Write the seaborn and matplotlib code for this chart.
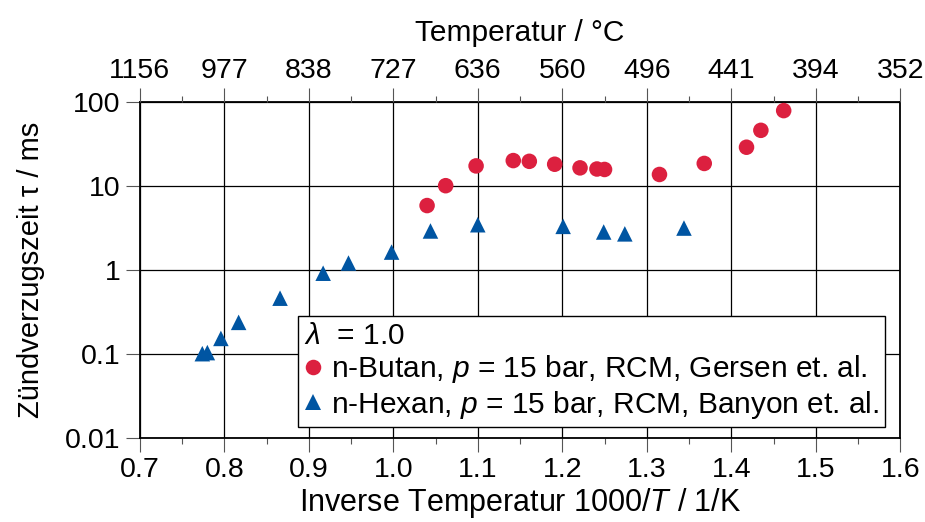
import matplotlib
matplotlib.use("Agg")
import matplotlib.pyplot as plt
import seaborn as sns
import pandas as pd
import numpy as np

# ---- data ----
butan_x = [1.040, 1.062, 1.098, 1.142, 1.161, 1.191, 1.221, 1.241, 1.250, 1.315, 1.368, 1.418, 1.435, 1.462]
butan_y = [5.8, 10.0, 17.2, 19.9, 19.5, 18.0, 16.3, 15.8, 15.6, 13.6, 18.4, 28.7, 45.6, 78.3]
hexan_x = [0.774, 0.780, 0.796, 0.817, 0.866, 0.917, 0.947, 0.998, 1.044, 1.100, 1.201, 1.249, 1.274, 1.344]
hexan_y = [0.100, 0.103, 0.152, 0.236, 0.458, 0.908, 1.20, 1.62, 2.89, 3.43, 3.28, 2.81, 2.67, 3.13]
butan_label = "n-Butan, $p$ = 15 bar, RCM, Gersen et. al."
hexan_label = "n-Hexan, $p$ = 15 bar, RCM, Banyon et. al."
legend_title = r"$\lambda$  = 1.0"
x_ticks = [0.7, 0.8, 0.9, 1.0, 1.1, 1.2, 1.3, 1.4, 1.5, 1.6]
x_ticklabels = ["0.7", "0.8", "0.9", "1.0", "1.1", "1.2", "1.3", "1.4", "1.5", "1.6"]
top_ticklabels = ["1156", "977", "838", "727", "636", "560", "496", "441", "394", "352"]
y_ticks = [0.01, 0.1, 1, 10, 100]
y_ticklabels = ["0.01", "0.1", "1", "10", "100"]

sns.set_style("white")
plt.rcParams["font.family"] = ["Liberation Sans", "DejaVu Sans"]
plt.rcParams["mathtext.fontset"] = "custom"
plt.rcParams["mathtext.rm"] = "Liberation Sans"
plt.rcParams["mathtext.it"] = "Liberation Sans:italic"
plt.rcParams["font.size"] = 20.5
for k in ["text.color", "axes.labelcolor", "xtick.labelcolor", "ytick.labelcolor"]:
    plt.rcParams[k] = "black"

red = "#DC203F"
blue = "#0055A2"

df = pd.DataFrame({
    "x": butan_x + hexan_x,
    "y": butan_y + hexan_y,
    "series": [butan_label] * len(butan_x) + [hexan_label] * len(hexan_x),
})

fig = plt.figure(figsize=(9.25, 5.22), dpi=100)
ax = fig.add_axes([0.1511, 0.1615, 0.9733 - 0.1511, 0.8052 - 0.1615])

sns.scatterplot(data=df, x="x", y="y", hue="series", style="series",
                palette={butan_label: red, hexan_label: blue},
                markers={butan_label: "o", hexan_label: "^"},
                s=125, linewidth=0, ax=ax, zorder=3)

ax.set_yscale("log")
ax.set_xlim(0.7, 1.6)
ax.set_ylim(0.01, 100)
ax.set_xticks(x_ticks)
ax.set_xticklabels(x_ticklabels)
ax.set_xticks(np.arange(0.75, 1.6, 0.1), minor=True)
ax.set_yticks(y_ticks)
ax.set_yticklabels(y_ticklabels)
ax.yaxis.set_minor_locator(matplotlib.ticker.NullLocator())

ax.grid(True, which="major", color="black", linewidth=0.9)
ax.set_axisbelow(True)
for s in ax.spines.values():
    s.set_color("black")
    s.set_linewidth(1.3)

ax.tick_params(axis="x", which="major", direction="out", length=10, width=0.8,
               color="#555555", pad=4, bottom=True, top=False)
ax.tick_params(axis="x", which="minor", direction="out", length=4.5, width=0.8,
               color="#555555", bottom=True, top=False)
ax.tick_params(axis="y", which="major", direction="out", length=10, width=0.8,
               color="#555555", pad=4, left=True, right=False)

ax.set_xlabel("Inverse Temperatur 1000/$T$ / 1/K", labelpad=2, fontsize=22)
ax.set_ylabel("Zündverzugszeit τ / ms", labelpad=14, fontsize=21)

ax2 = ax.twiny()
ax2.set_xlim(0.7, 1.6)
ax2.set_xticks(x_ticks)
ax2.set_xticklabels(top_ticklabels)
ax2.set_xticks(np.arange(0.75, 1.6, 0.1), minor=True)
ax2.tick_params(axis="x", which="major", direction="out", length=10, width=0.8,
                color="#555555", pad=3)
ax2.tick_params(axis="x", which="minor", direction="out", length=4.5, width=0.8,
                color="#555555")
ax2.set_xlabel("Temperatur / °C", labelpad=12, fontsize=21.5)
for s in ax2.spines.values():
    s.set_visible(False)

handles, labels = ax.get_legend_handles_labels()
leg = ax.legend(handles, labels, title=legend_title, loc="lower left",
                bbox_to_anchor=(0.2084, 0.0327), borderaxespad=0,
                frameon=True, fancybox=False, framealpha=1, edgecolor="black",
                handlelength=0.6, handletextpad=0.3, borderpad=0.2,
                labelspacing=0.12, markerscale=1.0, fontsize=21.5,
                title_fontsize=21.5, alignment="left")
leg.get_frame().set_linewidth(1.0)
leg.set_zorder(5)

fig.savefig("out.png", dpi=100)
